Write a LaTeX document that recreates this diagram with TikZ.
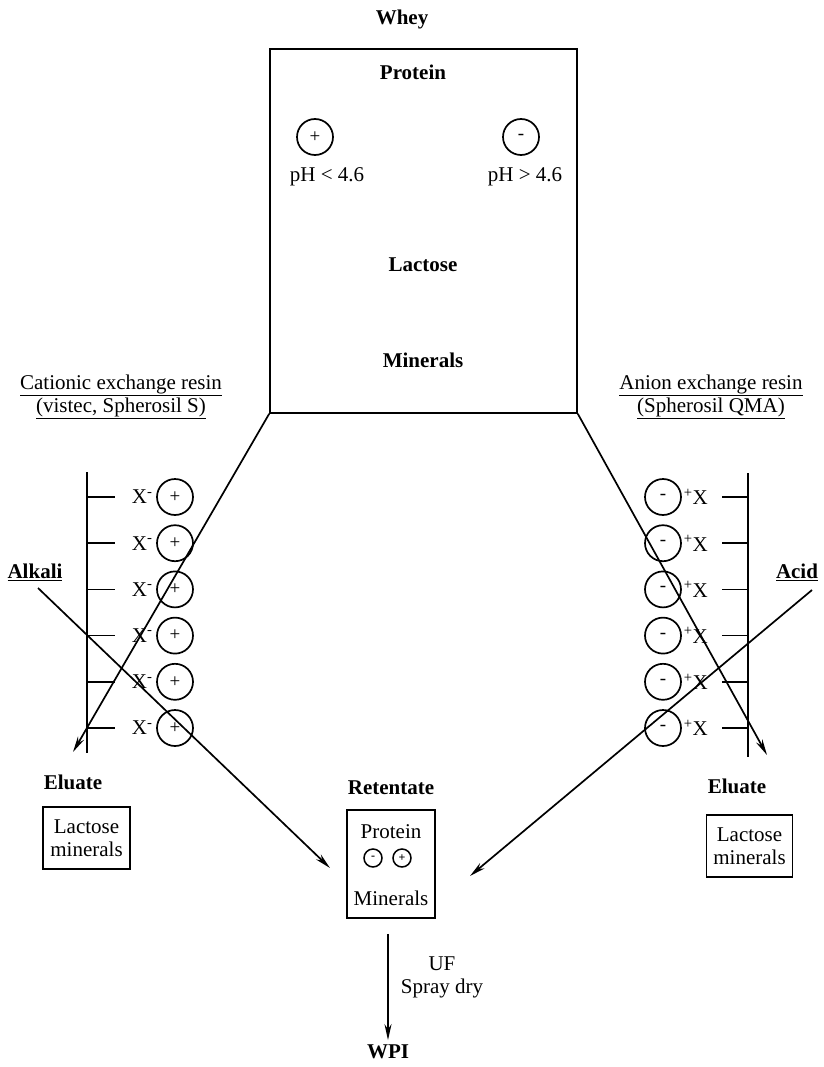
\documentclass[tikz,border=0pt]{standalone}
\usepackage{fontspec}
\setmainfont{Liberation Serif}
\usetikzlibrary{arrows.meta}

\begin{document}
\begin{tikzpicture}[x=1pt,y=-1pt,line width=1.7pt,>={Stealth[length=16pt,width=7pt]}]
    \tikzstyle{txt}=[font=\fontsize{21}{23}\selectfont, inner sep=0pt, align=center]
    \tikzstyle{bold}=[txt, font=\fontsize{21}{23}\selectfont\bfseries]
    \tikzstyle{ion}=[draw, circle, minimum size=36pt, inner sep=0pt, font=\fontsize{19}{19}\selectfont]
    \tikzstyle{smallion}=[draw, circle, minimum size=18pt, inner sep=0pt, line width=1.5pt, font=\fontsize{12}{12}\selectfont\bfseries]
    \tikzstyle{resbox}=[draw, txt, inner sep=0pt]

    \useasboundingbox (0,0) rectangle (823,1067);

    % whey and its contents
    \node[bold] (wheytitle) at (402,19) {Whey};
    \node[draw, minimum width=307pt, minimum height=364pt] (whey) at (423.5,231) {};
    \node[bold] (protein) at (413,72) {Protein};
    \node[ion] (pos) at (315,137) {+};
    \node[ion] (neg) at (521,137) {-};
    \node[txt] (phlow) at (327,177) {pH < 4.6};
    \node[txt] (phhigh) at (525,177) {pH > 4.6};
    \node[bold] (lactose) at (423,265) {Lactose};
    \node[bold] (minerals) at (423,360) {Minerals};

    % the two resins
    \node[txt] (cation) at (121,397) {\underline{Cationic exchange resin}\\\underline{(vistec, Spherosil S)}};
    \node[txt] (anion) at (711,397) {\underline{Anion exchange resin}\\\underline{(Spherosil QMA)}};

    \draw (87,472) -- (87,753);
    \draw (748,473) -- (748,757);
    \foreach \i in {0,...,5} {
      \pgfmathsetmacro{\yy}{497+46.2*\i}
      \draw (87,\yy) -- (115,\yy);
      \node[txt, anchor=west] (xl\i) at (131,\yy) {X\textsuperscript{-}};
      \node[ion] (cl\i) at (175,\yy) {+};
      \draw (722,\yy) -- (748,\yy);
      \node[ion] (cr\i) at (663,\yy) {-};
      \node[txt, anchor=west] (xr\i) at (683,\yy) {\textsuperscript{+}X};
    }

    \node[bold] (alkali) at (35,572) {\underline{Alkali}};
    \node[bold] (acid) at (797,572) {\underline{Acid}};

    % eluates
    \node[bold] (elul) at (73,782) {Eluate};
    \node[resbox, minimum width=87pt, minimum height=62pt] (boxl) at (86.5,838) {Lactose\\minerals};
    \node[bold] (elur) at (737,786) {Eluate};
    \node[resbox, minimum width=86pt, minimum height=62pt] (boxr) at (749.5,846) {Lactose\\minerals};

    % retentate
    \node[bold] (ret) at (391,788) {Retentate};
    \node[draw, minimum width=88pt, minimum height=108pt] (retbox) at (391,864) {};
    \node[txt] (retprot) at (391,832) {Protein};
    \node[smallion] (rneg) at (373,858) {-};
    \node[smallion] (rpos) at (402,858) {+};
    \node[txt] (retmin) at (391,898) {Minerals};

    \node[txt] (uf) at (442,977) {UF\\Spray dry};
    \node[bold] (wpi) at (388,1052) {WPI};

    \coordinate (tipl) at (73,752);
    \coordinate (tipr) at (767,755);
    \coordinate (alkstart) at (38,588);
    \coordinate (alktip) at (330,868);
    \coordinate (acidstart) at (812,590);
    \coordinate (acidtip) at (470,876);

    \draw[->] (whey.south west) -- (tipl);
    \draw[->] (whey.south east) -- (tipr);
    \draw[->] (alkstart) -- (alktip);
    \draw[->] (acidstart) -- (acidtip);
    \draw[->, shorten <=15pt, shorten >=4pt] (retbox.south -| wpi) -- (wpi.north);
\end{tikzpicture}
\end{document}
